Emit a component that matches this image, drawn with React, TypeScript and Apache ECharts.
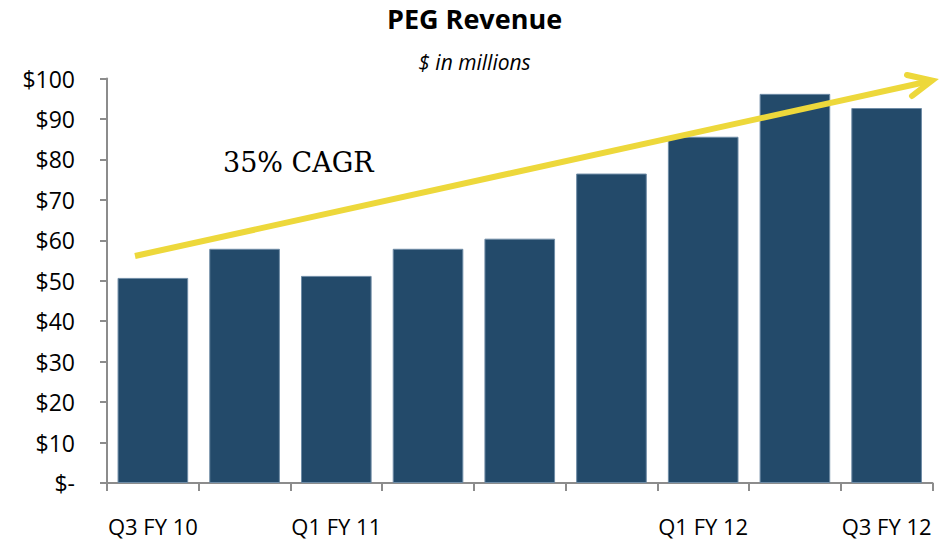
import React, { useEffect, useRef } from "react";
import * as echarts from "echarts";

const quarters = ["Q3 FY 10", "Q4 FY 10", "Q1 FY 11", "Q2 FY 11", "Q3 FY 11", "Q4 FY 11", "Q1 FY 12", "Q2 FY 12", "Q3 FY 12"];
const shownLabels = ["Q3 FY 10", "", "Q1 FY 11", "", "", "", "Q1 FY 12", "", "Q3 FY 12"];
const revenue = [50.7, 57.9, 51.2, 57.9, 60.4, 76.5, 85.6, 96.2, 92.7];
const yTicks = [0, 10, 20, 30, 40, 50, 60, 70, 80, 90, 100];
const titleText = "PEG Revenue";
const subtitleText = "$ in millions";
const cagrText = "35% CAGR";

const SANS = "'Open Sans', 'Noto Sans', sans-serif";

export default function App() {
  const ref = useRef<HTMLDivElement>(null);
  useEffect(() => {
    if (!ref.current) return;
    const chart = echarts.init(ref.current, undefined, { renderer: "svg" });
    const yellow = "#EDD83B";
    chart.setOption({
      animation: false,
      backgroundColor: "#ffffff",
      title: {
        text: titleText,
        subtext: subtitleText,
        left: "center",
        top: 0,
        itemGap: 19,
        textStyle: { fontFamily: SANS, fontWeight: "bold", fontSize: 27, color: "#000" },
        subtextStyle: { fontFamily: SANS, fontStyle: "italic", fontSize: 21, color: "#000" },
      },
      grid: { left: 107, right: 16.5, top: 78.5, bottom: 57, containLabel: false },
      xAxis: {
        type: "category",
        data: quarters,
        boundaryGap: true,
        axisLine: { lineStyle: { color: "#8c8c8c", width: 2 } },
        axisTick: { show: true, length: 8, lineStyle: { color: "#8c8c8c", width: 2 } },
        axisLabel: {
          interval: 0,
          margin: 32,
          fontFamily: SANS,
          fontSize: 22,
          color: "#000",
          formatter: (_v: string, i: number) => shownLabels[i],
        },
      },
      yAxis: {
        type: "value",
        min: yTicks[0],
        max: yTicks[yTicks.length - 1],
        interval: 10,
        splitLine: { show: false },
        axisLine: { show: true, lineStyle: { color: "#8c8c8c", width: 2 } },
        axisTick: { show: true, length: 7, lineStyle: { color: "#8c8c8c", width: 2 } },
        axisLabel: {
          margin: 32,
          fontFamily: SANS,
          fontSize: 23,
          color: "#000",
          formatter: (v: number) => (v === 0 ? "$-" : "$" + v),
        },
      },
      series: [
        {
          type: "bar",
          data: revenue,
          barCategoryGap: "23%",
          itemStyle: { color: "#234A6A", borderColor: "#6f8ca6", borderWidth: 1 },
        },
      ],
      graphic: [
        {
          type: "line",
          z: 100,
          shape: { x1: 135, y1: 256, x2: 929, y2: 81.2 },
          style: { stroke: yellow, lineWidth: 6 },
        },
        {
          type: "polyline",
          z: 100,
          shape: { points: [[907, 75], [932, 80.5], [912, 96]] },
          style: { stroke: yellow, lineWidth: 6, fill: "none", lineCap: "round", lineJoin: "miter" },
        },
        {
          type: "text",
          z: 100,
          x: 223,
          y: 162.5,
          style: {
            text: cagrText,
            fontFamily: "'DejaVu Serif', 'Liberation Serif', serif",
            fontSize: 27,
            fill: "#000",
            verticalAlign: "middle",
            align: "left",
          },
        },
      ],
    });
    return () => chart.dispose();
  }, []);
  return (
    <div
      ref={ref}
      style={{ position: "fixed", left: 0, top: 0, width: 949, height: 540 }}
    />
  );
}
